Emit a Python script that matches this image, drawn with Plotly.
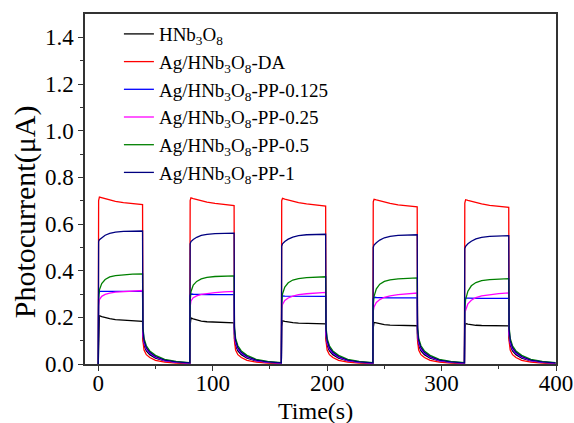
import plotly.graph_objects as go

# cycle start times (s) and time offsets within a cycle (s)
cycle_starts = [0, 80, 160, 240, 320]
offsets = [0, 0.3, 1, 3, 6, 10, 15, 22, 30, 38.7, 39.0, 40, 42, 45, 50, 58, 68, 79.5]

names = ["HNb<sub>3</sub>O<sub>8</sub>",
         "Ag/HNb<sub>3</sub>O<sub>8</sub>-DA",
         "Ag/HNb<sub>3</sub>O<sub>8</sub>-PP-0.125",
         "Ag/HNb<sub>3</sub>O<sub>8</sub>-PP-0.25",
         "Ag/HNb<sub>3</sub>O<sub>8</sub>-PP-0.5",
         "Ag/HNb<sub>3</sub>O<sub>8</sub>-PP-1"]
colors = ["#000000", "#ff0000", "#0000ff", "#ff00ff", "#008000", "#000080"]

# light-on values (offsets 0.3 .. 38.7) per cycle
light_black = [[0.17, 0.207, 0.203, 0.198, 0.194, 0.19, 0.187, 0.185, 0.183],
               [0.165, 0.197, 0.193, 0.188, 0.184, 0.181, 0.179, 0.177, 0.176],
               [0.16, 0.185, 0.183, 0.18, 0.177, 0.175, 0.174, 0.173, 0.172],
               [0.155, 0.178, 0.176, 0.172, 0.169, 0.167, 0.166, 0.165, 0.164],
               [0.15, 0.173, 0.171, 0.168, 0.166, 0.165, 0.164, 0.163, 0.163]]
light_red = [[0.70, 0.715, 0.712, 0.708, 0.703, 0.697, 0.692, 0.687, 0.683],
             [0.70, 0.712, 0.709, 0.705, 0.70, 0.694, 0.688, 0.683, 0.679],
             [0.70, 0.71, 0.707, 0.703, 0.698, 0.692, 0.686, 0.681, 0.677],
             [0.695, 0.706, 0.703, 0.699, 0.694, 0.688, 0.682, 0.678, 0.674],
             [0.69, 0.704, 0.701, 0.697, 0.692, 0.686, 0.68, 0.675, 0.671]]
light_blue = [[0.30, 0.311, 0.311, 0.311, 0.311, 0.311, 0.311, 0.311, 0.311],
              [0.295, 0.30, 0.299, 0.298, 0.298, 0.297, 0.297, 0.297, 0.297],
              [0.285, 0.292, 0.291, 0.291, 0.29, 0.29, 0.29, 0.29, 0.29],
              [0.28, 0.286, 0.285, 0.284, 0.284, 0.283, 0.283, 0.283, 0.283],
              [0.275, 0.282, 0.282, 0.281, 0.281, 0.281, 0.281, 0.281, 0.281]]
light_magenta = [[0.25, 0.276, 0.29, 0.298, 0.304, 0.308, 0.311, 0.313, 0.315],
                 [0.245, 0.27, 0.284, 0.292, 0.298, 0.302, 0.306, 0.309, 0.311],
                 [0.235, 0.255, 0.272, 0.283, 0.291, 0.297, 0.301, 0.304, 0.307],
                 [0.225, 0.245, 0.264, 0.276, 0.286, 0.292, 0.297, 0.301, 0.304],
                 [0.22, 0.233, 0.258, 0.273, 0.285, 0.292, 0.298, 0.302, 0.305]]
light_green = [[0.28, 0.318, 0.345, 0.362, 0.373, 0.379, 0.383, 0.385, 0.386],
               [0.27, 0.31, 0.338, 0.354, 0.365, 0.371, 0.375, 0.377, 0.378],
               [0.26, 0.30, 0.33, 0.348, 0.36, 0.366, 0.37, 0.373, 0.374],
               [0.25, 0.29, 0.322, 0.342, 0.354, 0.361, 0.365, 0.368, 0.369],
               [0.24, 0.276, 0.312, 0.335, 0.349, 0.357, 0.362, 0.365, 0.366]]
light_navy = [[0.525, 0.533, 0.542, 0.552, 0.56, 0.565, 0.568, 0.57, 0.57],
              [0.515, 0.525, 0.534, 0.543, 0.551, 0.556, 0.559, 0.561, 0.561],
              [0.505, 0.515, 0.525, 0.535, 0.544, 0.55, 0.554, 0.556, 0.556],
              [0.50, 0.51, 0.52, 0.531, 0.541, 0.547, 0.551, 0.553, 0.554],
              [0.495, 0.504, 0.515, 0.526, 0.536, 0.543, 0.547, 0.549, 0.55]]

# light-off decay values (offsets 39.0 .. 79.5)
dark_black = [0.11, 0.08, 0.056, 0.04, 0.025, 0.013, 0.007, 0.004]
dark_red = [0.10, 0.06, 0.04, 0.028, 0.016, 0.008, 0.004, 0.002]
dark_blue = [0.13, 0.09, 0.062, 0.045, 0.028, 0.014, 0.007, 0.004]
dark_magenta = [0.13, 0.095, 0.066, 0.048, 0.03, 0.015, 0.008, 0.004]
dark_green = [0.16, 0.11, 0.078, 0.056, 0.037, 0.02, 0.011, 0.006]
dark_navy = [0.15, 0.10, 0.07, 0.05, 0.032, 0.017, 0.009, 0.005]

lights = [light_black, light_red, light_blue, light_magenta, light_green, light_navy]
darks = [dark_black, dark_red, dark_blue, dark_magenta, dark_green, dark_navy]

times = [s + o for s in cycle_starts for o in offsets]

fig = go.Figure()
for name, color, light, dark in zip(names, colors, lights, darks):
    vals = []
    for k in range(len(cycle_starts)):
        start = 0.0 if k == 0 else dark[-1]
        vals += [start] + light[k] + dark
    fig.add_trace(go.Scatter(x=times, y=vals, mode="lines", name=name,
                             line=dict(color=color, width=1.3)))

font_family = "Liberation Serif, Times New Roman, serif"
axis_common = dict(showline=True, linecolor="#333333", linewidth=1.5, mirror=True,
                   ticks="outside", ticklen=5, tickwidth=1.2, tickcolor="#333333",
                   showgrid=False, zeroline=False, automargin=False,
                   tickfont=dict(family=font_family, size=23, color="black"))

fig.update_layout(
    width=574, height=423,
    margin=dict(l=85, r=18, t=14, b=59, autoexpand=False),
    paper_bgcolor="white", plot_bgcolor="white",
    font=dict(family=font_family, color="black"),
    showlegend=True,
    legend=dict(x=0.072, y=0.997, xanchor="left", yanchor="top",
                font=dict(family=font_family, size=19, color="black"),
                bgcolor="rgba(0,0,0,0)", tracegroupgap=0),
    xaxis=dict(range=[-11.6, 400], tickmode="array", tickvals=[0, 100, 200, 300, 400],
               minor=dict(tickvals=[50, 150, 250, 350], ticks="outside", ticklen=3,
                          tickcolor="#333333"),
               ticklabelstandoff=-7,
               **axis_common),
    yaxis=dict(range=[0, 1.5], tickmode="array",
               tickvals=[0, 0.2, 0.4, 0.6, 0.8, 1.0, 1.2, 1.4],
               ticktext=["0.0", "0.2", "0.4", "0.6", "0.8", "1.0", "1.2", "1.4"],
               minor=dict(tickvals=[0.1, 0.3, 0.5, 0.7, 0.9, 1.1, 1.3], ticks="outside",
                          ticklen=3, tickcolor="#333333"),
               **axis_common),
    annotations=[dict(text="Photocurrent(μA)", textangle=-90, showarrow=False,
                      xref="paper", yref="paper", x=-0.127, y=0.434,
                      xanchor="center", yanchor="middle",
                      font=dict(family=font_family, size=30, color="black")),
                 dict(text="Time(s)", showarrow=False,
                      xref="paper", yref="paper", x=0.490, y=-0.134,
                      xanchor="center", yanchor="middle",
                      font=dict(family=font_family, size=24, color="black"))],
)

fig.write_html("out.html")
